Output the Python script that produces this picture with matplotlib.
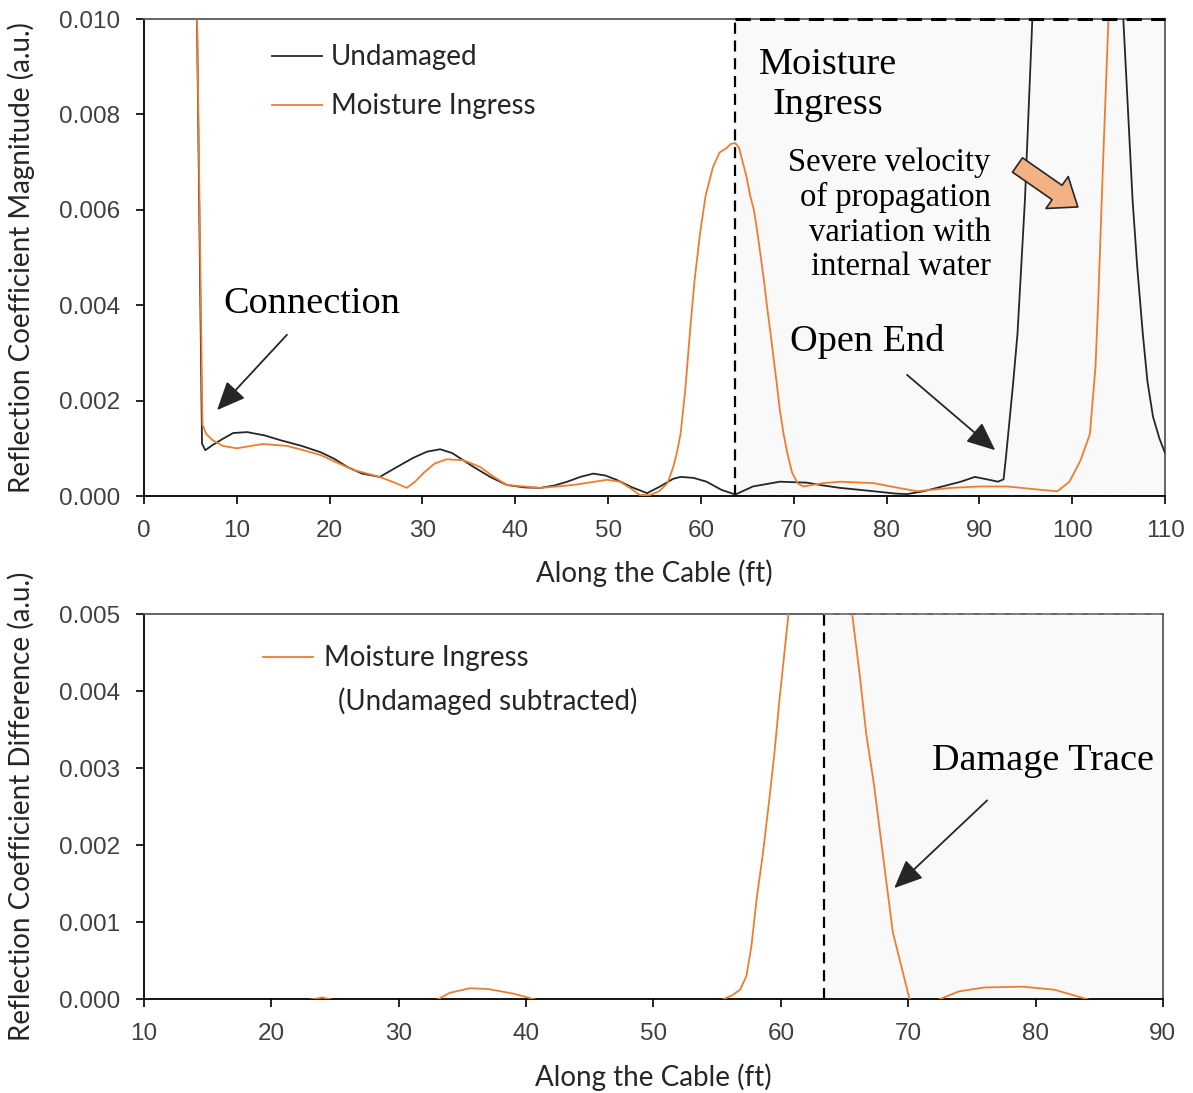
import numpy as np
import matplotlib.pyplot as plt
from matplotlib.patches import Rectangle

# --- data ---
# top panel, undamaged cable (ft, a.u.)
und_x = [5.65, 6.25, 6.6, 7.4, 8.5, 9.6, 11.1, 13.0, 14.7, 17.0, 19.0, 20.5, 21.9, 23.5, 25.4,
         27.0, 29.0, 30.5, 31.9, 33.2, 35.5, 37.3, 39.1, 41.0, 42.7, 44.2, 45.6, 47.0, 48.4,
         49.7, 50.9, 52.6, 54.2, 55.6, 57.0, 57.8, 59.2, 60.6, 62.2, 63.7, 65.6, 68.5, 71.4,
         73.2, 75.0, 78.6, 81.0, 82.2, 84.0, 86.0, 88.0, 89.5, 90.8, 92.0, 92.6, 92.85, 93.1,
         93.6, 94.1, 94.5, 94.9, 95.3, 95.7, 96.5, 104.6, 105.5, 106.0, 106.5, 107.0, 107.6,
         108.1, 108.7, 109.4, 110.0]
und_y = [0.011, 0.0011, 0.00096, 0.00107, 0.0012, 0.00132, 0.00134, 0.00127, 0.00117, 0.00105,
         0.00092, 0.00078, 0.00061, 0.00047, 0.0004, 0.00058, 0.0008, 0.00093, 0.00098, 0.0009,
         0.00061, 0.0004, 0.00023, 0.00018, 0.00017, 0.00022, 0.0003, 0.0004, 0.00047, 0.00043,
         0.00034, 0.00018, 0.00006, 0.0002, 0.00036, 0.0004, 0.00038, 0.0003, 0.00013, 0.00003,
         0.0002, 0.0003, 0.00028, 0.00022, 0.00017, 0.0001, 0.00005, 0.00004, 0.0001, 0.0002,
         0.0003, 0.0004, 0.00035, 0.0003, 0.00035, 0.0008, 0.0013, 0.0023, 0.0034, 0.0048,
         0.0062, 0.0081, 0.010, 0.014, 0.014, 0.010, 0.0081, 0.0062, 0.0048, 0.0034, 0.0024,
         0.00166, 0.0012, 0.0009]

# top panel, moisture ingress
moi_x = [5.65, 6.3, 6.7, 7.4, 8.5, 10.0, 11.5, 12.8, 15.4, 17.0, 19.0, 20.8, 22.5, 25.4, 27.0,
         28.3, 29.2, 30.1, 31.3, 32.6, 34.4, 36.2, 37.7, 39.1, 42.7, 46.2, 49.9, 51.3, 52.5,
         53.4, 54.5, 55.5, 56.4, 57.0, 57.4, 57.8, 58.3, 58.8, 59.3, 59.9, 60.5, 61.3, 62.0,
         62.8, 63.2, 63.7, 64.1, 64.5, 64.9, 65.3, 65.7, 66.1, 66.8, 67.1, 67.5, 68.2, 68.5,
         68.9, 69.3, 69.8, 70.4, 71.0, 73.2, 75.0, 78.6, 81.0, 83.3, 86.9, 90.0, 93.0, 96.6,
         98.4, 99.7, 100.9, 101.9, 102.5, 102.8, 103.3, 103.9, 104.5]
moi_y = [0.011, 0.0015, 0.0013, 0.00117, 0.00105, 0.001, 0.00105, 0.00109, 0.00105, 0.00097,
         0.00086, 0.0007, 0.00055, 0.0004, 0.00028, 0.00017, 0.0003, 0.00048, 0.00068, 0.00077,
         0.00075, 0.00061, 0.0004, 0.00023, 0.00017, 0.00023, 0.00034, 0.0003, 0.00015, 0.00002,
         0.00002, 0.0001, 0.00027, 0.0006, 0.0009, 0.0013, 0.0022, 0.0034, 0.0045, 0.0055,
         0.0063, 0.0069, 0.0072, 0.0073, 0.00738, 0.0074, 0.0073, 0.007, 0.0067, 0.0063, 0.0060,
         0.0055, 0.0045, 0.0040, 0.0034, 0.0023, 0.0018, 0.0013, 0.0009, 0.0005, 0.00027,
         0.0002, 0.00027, 0.0003, 0.00027, 0.00018, 0.0001, 0.00017, 0.0002, 0.0002, 0.00013,
         0.0001, 0.0003, 0.00075, 0.0013, 0.0027, 0.0041, 0.0069, 0.010, 0.014]

# bottom panel, moisture ingress minus undamaged
diff_x = [10, 15, 20, 23.0, 24.0, 24.8, 27, 30, 33.0, 34.0, 35.6, 37.0, 39.0, 40.8, 44, 48,
          52, 55.4, 56.2, 56.8, 57.3, 57.7, 58.1, 58.6, 59.1, 59.5, 59.9, 60.6, 61.5, 63.0,
          63.8, 64.8, 65.6, 66.2, 66.7, 67.3, 67.8, 68.3, 68.8, 69.5, 70.1, 71.2, 72.5, 74.0,
          76.0, 79.0, 81.5, 84.0, 86, 90]
diff_y = [-0.0003, -0.0001, -0.00008, -0.00001, 0.00002, -0.00001, -0.0002, -0.0003, -0.00001,
          0.00008, 0.00014, 0.00013, 0.00007, -0.00001, -0.0001, -0.0001, -0.0001, -0.00001,
          0.00005, 0.00012, 0.0003, 0.0007, 0.0013, 0.0019, 0.0026, 0.0032, 0.0039, 0.005,
          0.0062, 0.0072, 0.0074, 0.0065, 0.005, 0.0042, 0.00345, 0.0028, 0.00215, 0.0015,
          0.00086, 0.0004, 0.0, -0.0001, 0.0, 0.0001, 0.00015, 0.00016, 0.00012, 0.0, -0.0001,
          -0.0001]

damage_start = 63.7
damage_start_diff = 63.4

black = '#262626'
orange = '#ed7d31'
tick_font = 'Liberation Sans'
label_font = 'Lato'
serif = 'Liberation Serif'
dash = (0, (5, 3))

fig = plt.figure(figsize=(11.93, 10.93), dpi=100)
ax1 = fig.add_axes([0.1207, 0.5462, 0.8559, 0.4364])
ax2 = fig.add_axes([0.1207, 0.0860, 0.8541, 0.3522])


def style_axes(ax):
    for s in ['left', 'bottom']:
        ax.spines[s].set_color('black')
        ax.spines[s].set_linewidth(1.3)
    for s in ['top', 'right']:
        ax.spines[s].set_color('#595959')
        ax.spines[s].set_linewidth(1.3)
    ax.tick_params(direction='out', length=6, width=1.2, pad=11, colors='black',
                   labelcolor='#404040', labelsize=17.5, top=False, right=False)
    for lab in ax.get_xticklabels() + ax.get_yticklabels():
        lab.set_fontfamily(tick_font)


# ---- top panel ----
ax1.add_patch(Rectangle((damage_start, 0), 110 - damage_start, 0.010, facecolor='#f9f9f9',
                        edgecolor='none', zorder=0))
ax1.plot([damage_start, 110], [0.010, 0.010], color='black', lw=2.2, ls=dash,
         clip_on=False, zorder=4)
ax1.plot([damage_start, 110], [0, 0], color='#909090', lw=1.4, ls=dash, zorder=1)
ax1.plot(und_x, und_y, color=black, lw=1.3, label='Undamaged', zorder=3)
ax1.plot(moi_x, moi_y, color=orange, lw=1.3, label='Moisture Ingress', zorder=3)
ax1.axvline(damage_start, color='black', lw=1.6, ls=dash, zorder=2)
ax1.set_xlim(0, 110)
ax1.set_ylim(0, 0.010)
ax1.set_xticks(np.arange(0, 111, 10))
ax1.set_yticks(np.arange(0, 0.0101, 0.002))
ax1.yaxis.set_major_formatter(plt.FormatStrFormatter('%.3f'))
style_axes(ax1)
ax1.set_xlabel('Along the Cable (ft)', fontsize=20, family=label_font, color='#262626')
ax1.set_ylabel('Reflection Coefficient Magnitude (a.u.)', fontsize=20, family=label_font,
               color='#262626')
ax1.xaxis.set_label_coords(0.5, -0.132)
ax1.yaxis.set_label_coords(-0.1068, 0.5)

leg = ax1.legend(loc='upper left', bbox_to_anchor=(0.125, 0.947), frameon=False,
                 prop={'family': label_font, 'size': 20}, handlelength=1.8,
                 handletextpad=0.32, labelspacing=0.83, borderpad=0, borderaxespad=0)
for t in leg.get_texts():
    t.set_color('#262626')

ax1.text(8.5, 0.00403, 'Connection', family=serif, fontsize=27.5, va='center', ha='left')
ax1.annotate('', xy=(7.87, 0.0018), xytext=(15.4, 0.00338),
             arrowprops=dict(arrowstyle='-|>,head_length=0.8,head_width=0.35', lw=1.3,
                             color=black, mutation_scale=22, shrinkA=0, shrinkB=0))
ax1.text(73.7, 0.00862, 'Moisture\nIngress', family=serif, fontsize=27.5, va='center',
         ha='center', linespacing=1.22)
ax1.text(91.2, 0.00589, 'Severe velocity\nof propagation\nvariation with\ninternal water',
         family=serif, fontsize=23.5, va='center', ha='right', multialignment='right',
         linespacing=1.17)
ax1.annotate('', xy=(100.6, 0.00606), xytext=(94.1, 0.00694),
             arrowprops=dict(arrowstyle='simple,head_length=0.65,head_width=1.0,tail_width=0.45',
                             fc='#f4b183', ec=black, lw=1.2, mutation_scale=28,
                             shrinkA=0, shrinkB=0))
ax1.text(69.6, 0.00323, 'Open End', family=serif, fontsize=27.5, va='center', ha='left')
ax1.annotate('', xy=(91.7, 0.00096), xytext=(82.2, 0.00254),
             arrowprops=dict(arrowstyle='-|>,head_length=0.8,head_width=0.35', lw=1.3,
                             color=black, mutation_scale=22, shrinkA=0, shrinkB=0))

# ---- bottom panel ----
ax2.add_patch(Rectangle((damage_start_diff, 0), 90 - damage_start_diff, 0.005,
                        facecolor='#f9f9f9', edgecolor='none', zorder=0))
ax2.plot([damage_start_diff, 90], [0.005, 0.005], color='#808080', lw=1.4, ls=dash,
         clip_on=False, zorder=4)
ax2.plot(diff_x, diff_y, color=orange, lw=1.3, label='Moisture Ingress', zorder=3)
ax2.axvline(damage_start_diff, color='black', lw=1.6, ls=dash, zorder=2)
ax2.set_xlim(10, 90)
ax2.set_ylim(0, 0.005)
ax2.set_xticks(np.arange(10, 91, 10))
ax2.set_yticks(np.arange(0, 0.00501, 0.001))
ax2.yaxis.set_major_formatter(plt.FormatStrFormatter('%.3f'))
style_axes(ax2)
ax2.set_xlabel('Along the Cable (ft)', fontsize=20, family=label_font, color='#262626')
ax2.set_ylabel('Reflection Coefficient Difference (a.u.)', fontsize=20, family=label_font,
               color='#262626')
ax2.xaxis.set_label_coords(0.5, -0.166)
ax2.yaxis.set_label_coords(-0.107, 0.5)

leg2 = ax2.legend(loc='upper left', bbox_to_anchor=(0.117, 0.919), frameon=False,
                  prop={'family': label_font, 'size': 20}, handlelength=1.8,
                  handletextpad=0.4, borderpad=0, borderaxespad=0)
for t in leg2.get_texts():
    t.set_color('#262626')
ax2.text(0.19, 0.774, '(Undamaged subtracted)', transform=ax2.transAxes, family=label_font,
         fontsize=20, color='#262626', va='center', ha='left')

ax2.text(71.85, 0.00309, 'Damage Trace', family=serif, fontsize=27.5, va='center', ha='left')
ax2.annotate('', xy=(68.9, 0.00144), xytext=(76.2, 0.00258),
             arrowprops=dict(arrowstyle='-|>,head_length=0.8,head_width=0.35', lw=1.3,
                             color=black, mutation_scale=22, shrinkA=0, shrinkB=0))

fig.savefig('out.png', dpi=100)
